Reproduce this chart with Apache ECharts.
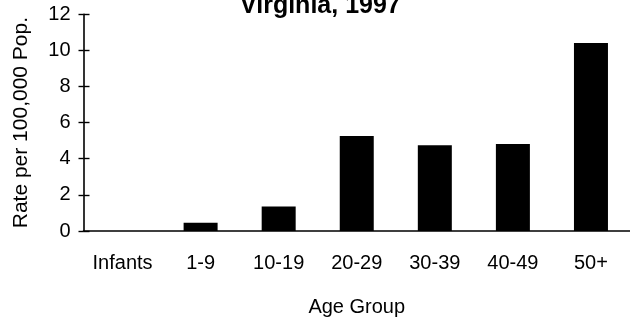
<!DOCTYPE html>
<html>
<head>
<meta charset="utf-8">
<script src="https://cdn.jsdelivr.net/npm/echarts@6/dist/echarts.min.js"></script>
<style>
html,body{margin:0;padding:0;background:#fff;}
#chart{width:630px;height:322px;}
</style>
</head>
<body>
<div id="chart"></div>
<script>
const titleText = "Virginia, 1997";
const categories = ["Infants", "1-9", "10-19", "20-29", "30-39", "40-49", "50+"];
const rates = [0, 0.46, 1.36, 5.26, 4.75, 4.81, 10.4];
const yTicks = { min: 0, max: 12, interval: 2 };
const xName = "Age Group";
const yName = "Rate per 100,000 Pop.";

const FONT = "Liberation Sans";
const chart = echarts.init(document.getElementById('chart'), null, { renderer: 'canvas' });
chart.setOption({
  animation: false,
  backgroundColor: '#ffffff',
  title: {
    text: titleText,
    left: 240,
    top: -6,
    padding: 0,
    textStyle: { fontFamily: FONT, fontWeight: 'bold', fontSize: 25, color: '#000' }
  },
  grid: { left: 83.5, top: 14.2, width: 551.6, height: 220.8 },
  xAxis: {
    type: 'category',
    data: categories,
    axisLine: { show: true, lineStyle: { color: '#000', width: 1.6 } },
    axisTick: { show: false },
    axisLabel: { color: '#000', fontFamily: FONT, fontSize: 20, margin: 22 },
    name: xName,
    nameLocation: 'middle',
    nameGap: 66,
    nameTextStyle: { color: '#000', fontFamily: FONT, fontSize: 20 },
    splitLine: { show: false }
  },
  yAxis: [
    {
      type: 'value',
      min: yTicks.min, max: yTicks.max, interval: yTicks.interval,
      position: 'left',
      axisLine: { show: true, lineStyle: { color: '#000', width: 1.6 } },
      axisTick: { show: true, inside: false, length: 5, lineStyle: { color: '#000', width: 1.4 } },
      axisLabel: { color: '#000', fontFamily: FONT, fontSize: 20, margin: 13 },
      splitLine: { show: false },
      name: yName,
      nameLocation: 'middle',
      nameGap: 52,
      nameTextStyle: { color: '#000', fontFamily: FONT, fontSize: 21 }
    },
    {
      type: 'value',
      min: yTicks.min, max: yTicks.max, interval: yTicks.interval,
      position: 'left',
      axisLine: { show: false },
      axisTick: { show: true, inside: true, length: 6, lineStyle: { color: '#000', width: 1.4 } },
      axisLabel: { show: false },
      splitLine: { show: false }
    }
  ],
  series: [{
    type: 'bar',
    data: rates,
    yAxisIndex: 0,
    barWidth: 34,
    itemStyle: { color: '#000' }
  }]
});
</script>
</body>
</html>
